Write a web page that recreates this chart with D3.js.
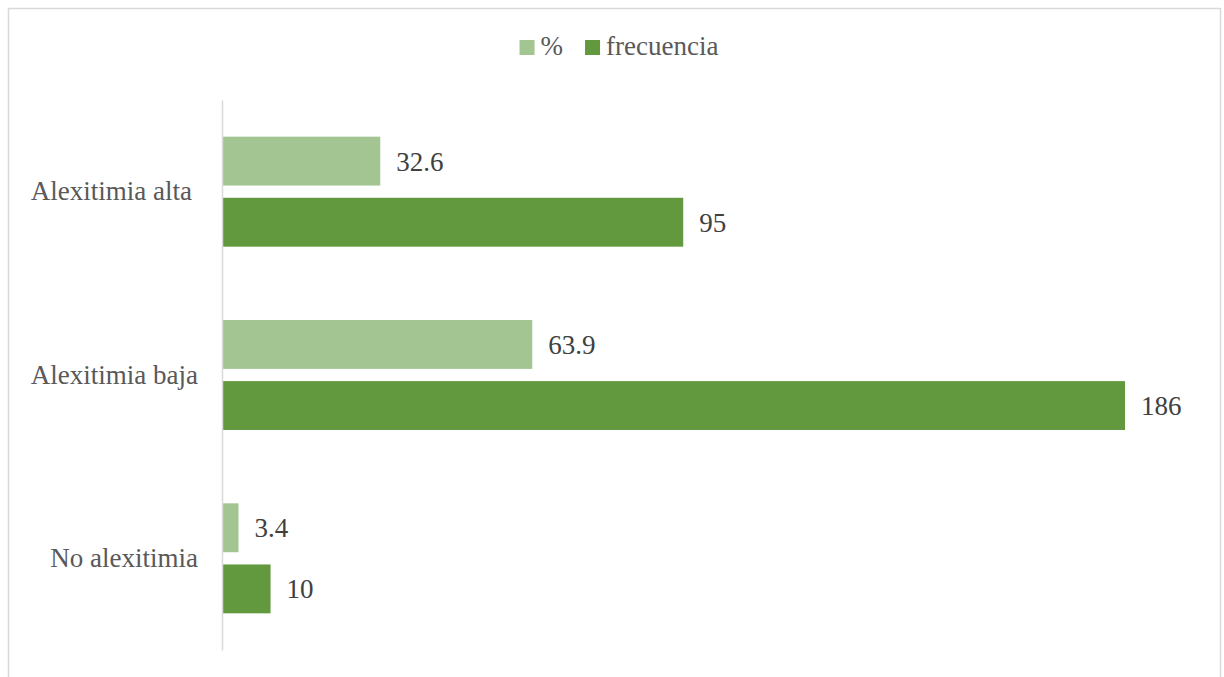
<!DOCTYPE html>
<html>
<head>
<meta charset="utf-8">
<script src="https://cdn.jsdelivr.net/npm/d3@7"></script>
</head>
<body style="margin:0; background:#fff">
<div id="chart"></div>
<script>
// data
var categories = ["Alexitimia alta", "Alexitimia baja", "No alexitimia"];
var seriesNames = ["%", "frecuencia"];
var pctValues = [32.6, 63.9, 3.4];
var freqValues = [95, 186, 10];
var colors = ["#a3c592", "#62993e"];

var width = 1224, height = 677;
var serif = "'Liberation Serif'";

var svg = d3.select("#chart").append("svg")
    .attr("width", width).attr("height", height)
    .style("font-family", serif);

// outer frame
svg.append("rect")
    .attr("x", 8.5).attr("y", 8.5)
    .attr("width", 1212).attr("height", 700)
    .attr("fill", "none").attr("stroke", "#d9d9d9").attr("stroke-width", 1.5);

var x = d3.scaleLinear().domain([0, 200]).range([222, 1193]);
var y = d3.scaleBand().domain(categories).range([100, 650])
    .paddingInner(0.4).paddingOuter(0.2);
var ySub = d3.scaleBand().domain(seriesNames).range([0, y.bandwidth()]).paddingInner(0.2);

var rows = categories.map(function(c, i) {
    return {cat: c, vals: [pctValues[i], freqValues[i]]};
});

var groups = svg.append("g").selectAll("g")
    .data(rows).enter().append("g")
    .attr("transform", function(d) { return "translate(0," + y(d.cat) + ")"; });

groups.selectAll("rect")
    .data(function(d) { return d.vals.map(function(v, j) { return {s: seriesNames[j], v: v, j: j}; }); })
    .enter().append("rect")
    .attr("x", x(0))
    .attr("y", function(d) { return ySub(d.s); })
    .attr("width", function(d) { return x(d.v) - x(0); })
    .attr("height", ySub.bandwidth())
    .attr("fill", function(d) { return colors[d.j]; });

// value labels
groups.selectAll("text.val")
    .data(function(d) { return d.vals.map(function(v, j) { return {s: seriesNames[j], v: v}; }); })
    .enter().append("text")
    .attr("class", "val")
    .attr("x", function(d) { return x(d.v) + 16; })
    .attr("y", function(d) { return ySub(d.s) + ySub.bandwidth() / 2; })
    .attr("dy", "0.35em")
    .attr("fill", "#404040")
    .style("font-family", serif)
    .style("font-size", "27px")
    .text(function(d) { return d.v; });

// category axis (line only, no ticks)
var yAxis = svg.append("g")
    .attr("transform", "translate(" + x(0) + ",0)")
    .call(d3.axisLeft(y).tickSize(0).tickPadding(24));
yAxis.attr("font-family", null);
yAxis.select(".domain").attr("stroke", "#d9d9d9").attr("stroke-width", 1.5);
yAxis.selectAll("text")
    .attr("fill", "#595959")
    .style("font-size", "27px")
    .style("font-family", serif)
    .attr("dx", function(d, i) { return i === 0 ? -6 : 0; });

// legend
var legend = svg.append("g");
var lx = 0;
seriesNames.forEach(function(s, j) {
    var item = legend.append("g").attr("transform", "translate(" + lx + ",0)");
    item.append("rect").attr("x", 0).attr("y", 40)
        .attr("width", 15).attr("height", 15).attr("fill", colors[j]);
    var t = item.append("text").attr("x", 21).attr("y", 55)
        .attr("fill", "#595959")
        .style("font-family", serif)
        .style("font-size", "27px").text(s);
    lx += 21 + t.node().getComputedTextLength() + 22;
});
var lw = legend.node().getBBox().width;
legend.attr("transform", "translate(" + (619 - lw / 2) + ",0)");
</script>
</body>
</html>
